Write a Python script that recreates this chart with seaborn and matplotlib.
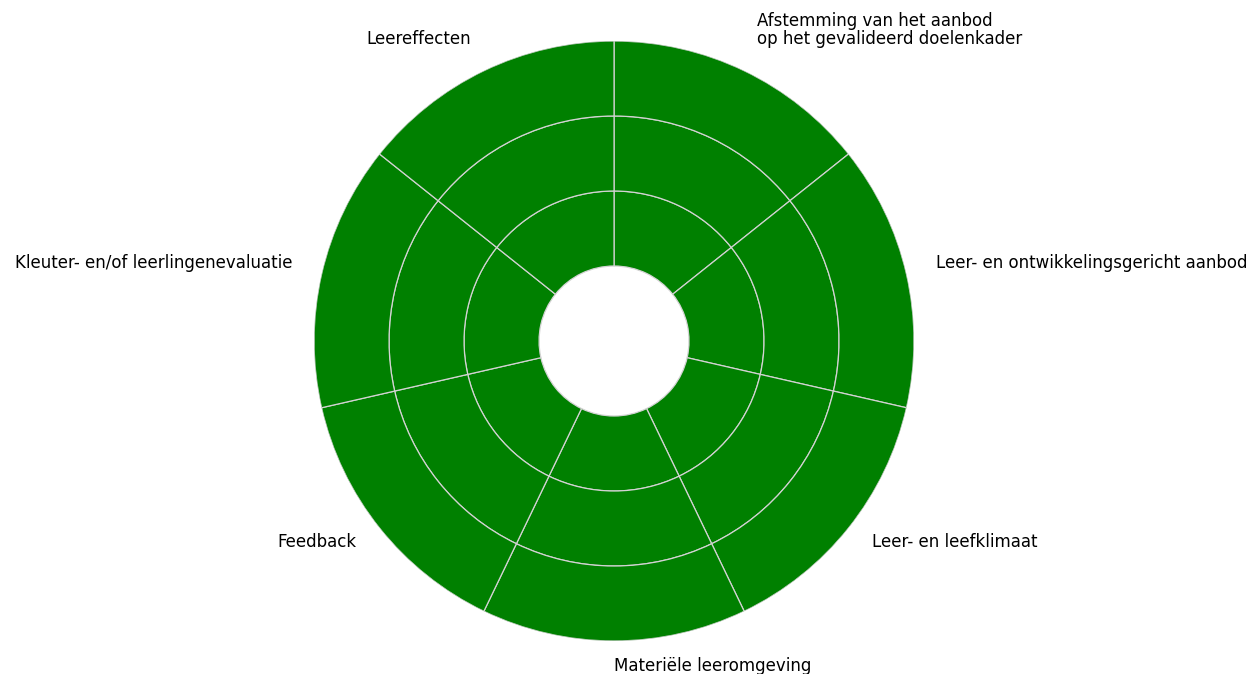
import numpy as np
import matplotlib
matplotlib.use("Agg")
import matplotlib.pyplot as plt
import seaborn as sns

categories = [
    "Afstemming van het aanbod\nop het gevalideerd doelenkader",
    "Leer- en ontwikkelingsgericht aanbod",
    "Leer- en leefklimaat",
    "Materiële leeromgeving",
    "Feedback",
    "Kleuter- en/of leerlingenevaluatie",
    "Leereffecten",
]
ring_inner = [1, 1, 1, 1, 1, 1, 1]
ring_middle = [1, 1, 1, 1, 1, 1, 1]
ring_outer = [1, 1, 1, 1, 1, 1, 1]
ring_colors = ["green", "green", "green"]
hole = 1.0

sns.set_style("white")
plt.rcParams["font.family"] = ["DejaVu Sans"]

fig = plt.figure(figsize=(12.53, 6.74), dpi=100)
ax = fig.add_axes([0.2506, 0.04896, 0.4789, 0.8902], projection="polar")
ax.set_theta_zero_location("N")
ax.set_theta_direction(-1)

n = len(categories)
width = 2 * np.pi / n
theta = np.arange(n) * width + width / 2

bottom = np.full(n, hole)
for vals, col in zip([ring_inner, ring_middle, ring_outer], ring_colors):
    vals = np.array(vals, dtype=float)
    ax.bar(theta, vals, width=width, bottom=bottom, color=col,
           edgecolor="#d3d3d3", linewidth=0.9, align="center")
    bottom = bottom + vals

ax.set_ylim(0, bottom.max())
ax.grid(False)
ax.set_xticks([])
ax.set_yticks([])
ax.spines["polar"].set_visible(False)

label_r = 4.4
for t, lab in zip(theta, categories):
    deg = np.degrees(t)
    ha = "left" if deg <= 180.5 else "right"
    ax.text(t, label_r, lab, ha=ha, va="baseline", fontsize=12,
            color="black", clip_on=False, linespacing=0.95)

fig.savefig("out.png", dpi=100)
